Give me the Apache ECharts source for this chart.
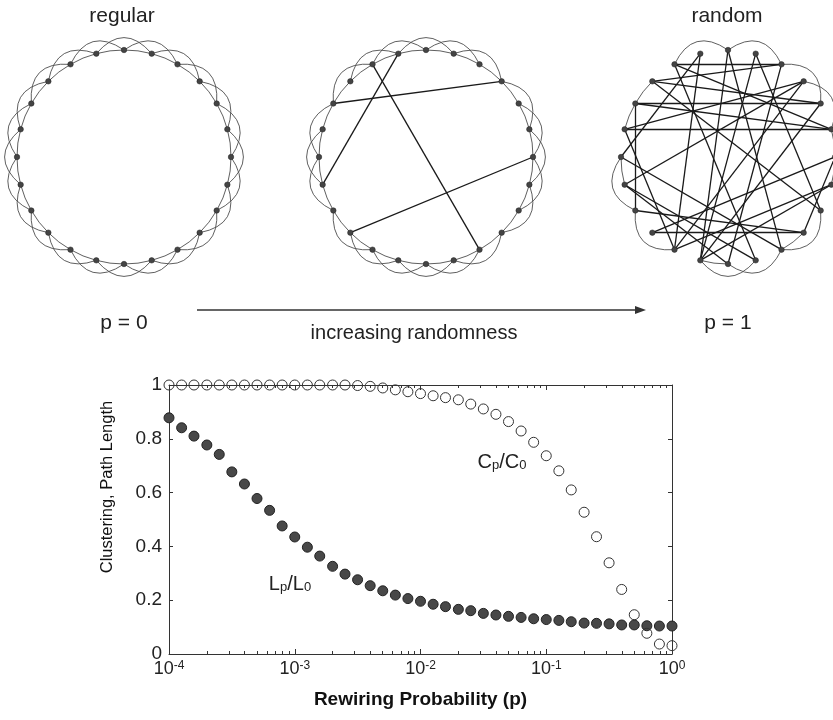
<!DOCTYPE html>
<html>
<head>
<meta charset="utf-8">
<script src="https://cdn.jsdelivr.net/npm/echarts@6/dist/echarts.min.js"></script>
<style>
html, body { margin: 0; padding: 0; background: #fff; }
#main { width: 833px; height: 720px; }
</style>
</head>
<body>
<div id="main"></div>
<script>
// --- ring networks: 24 nodes, each tied to 2 neighbours on either side ---
var nodeCount = 24;
// shortcuts of the small-world ring and the lattice arcs they replaced
var middleShortcuts = [[20, 3], [23, 17], [22, 10], [6, 15]];
var middleRemovedArcs = [[19, 21], [8, 10], [15, 17], [2, 4]];
// random ring: what is left of the lattice, plus the rewired chords
var randomArcs = [[22, 0], [0, 2], [2, 4], [3, 5], [16, 18], [14, 16], [11, 13], [10, 12], [8, 10]];
var randomNeighbours = [[19, 20], [20, 21], [12, 13], [5, 6], [6, 7], [17, 18], [9, 10]];
var randomChords = [
  [22, 2], [22, 5], [21, 2], [21, 4], [20, 4], [20, 5], [20, 16], [23, 18], [23, 14],
  [0, 13], [0, 10], [1, 13], [1, 8], [3, 19], [3, 17], [4, 13], [5, 19], [6, 15],
  [6, 9], [7, 14], [7, 13], [15, 9], [16, 9], [17, 12], [17, 11], [18, 10], [19, 14],
  [12, 2], [11, 22], [8, 21], [14, 3]
];

// --- clustering / path length vs rewiring probability ---
var rewiringP = [
  0.0001, 0.000126, 0.000158, 0.0002, 0.000251, 0.000316, 0.000398, 0.000501, 0.000631, 0.000794,
  0.001, 0.00126, 0.00158, 0.002, 0.00251, 0.00316, 0.00398, 0.00501, 0.00631, 0.00794,
  0.01, 0.0126, 0.0158, 0.02, 0.0251, 0.0316, 0.0398, 0.0501, 0.0631, 0.0794,
  0.1, 0.126, 0.158, 0.2, 0.251, 0.316, 0.398, 0.501, 0.631, 0.794, 1
];
var clustering = [
  1, 1, 1, 1, 1, 1, 1, 1, 1, 1,
  1, 1, 1, 1, 1, 0.998, 0.995, 0.989, 0.982, 0.975,
  0.968, 0.96, 0.953, 0.945, 0.929, 0.911, 0.891, 0.864, 0.829, 0.787,
  0.737, 0.681, 0.61, 0.527, 0.436, 0.339, 0.24, 0.146, 0.077, 0.037, 0.031
];
var pathLength = [
  0.878, 0.841, 0.81, 0.777, 0.742, 0.677, 0.632, 0.578, 0.534, 0.476,
  0.435, 0.397, 0.364, 0.326, 0.297, 0.276, 0.254, 0.235, 0.219, 0.206,
  0.196, 0.185, 0.176, 0.166, 0.161, 0.151, 0.145, 0.14, 0.136, 0.131,
  0.128, 0.125, 0.12, 0.115, 0.114, 0.112, 0.108, 0.108, 0.105, 0.104, 0.104
];

var FONT = '"Liberation Sans", Arial, sans-serif';
var myChart = echarts.init(document.getElementById('main'));

function ringNodes() {
  var nodes = [];
  for (var i = 0; i < nodeCount; i++) {
    nodes.push({ name: 'n' + i, value: [1, i] });
  }
  return nodes;
}

var arcStyle = { color: '#4d4d4d', width: 0.9, curveness: 0.58 };
var nearStyle = { color: '#4d4d4d', width: 0.9, curveness: 0.07 };
var chordStyle = { color: '#1a1a1a', width: 1.3, curveness: 0 };

function isRemoved(a, b, removed) {
  return removed.some(function (r) { return r[0] === a && r[1] === b; });
}

function latticeLinks(removed) {
  var links = [];
  for (var i = 0; i < nodeCount; i++) {
    links.push({ source: i, target: (i + 1) % nodeCount, lineStyle: nearStyle });
    if (!isRemoved(i, (i + 2) % nodeCount, removed)) {
      links.push({ source: i, target: (i + 2) % nodeCount, lineStyle: arcStyle });
    }
  }
  return links;
}

function pairsToLinks(pairs, style) {
  return pairs.map(function (p) { return { source: p[0], target: p[1], lineStyle: style }; });
}

var regularLinks = latticeLinks([]);
var middleLinks = latticeLinks(middleRemovedArcs).concat(pairsToLinks(middleShortcuts, chordStyle));
var randomLinks = pairsToLinks(randomArcs, arcStyle)
  .concat(pairsToLinks(randomNeighbours, nearStyle))
  .concat(pairsToLinks(randomChords, chordStyle));

function ringSeries(idx, links) {
  return {
    type: 'graph',
    coordinateSystem: 'polar',
    polarIndex: idx,
    layout: 'none',
    silent: true,
    symbol: 'circle',
    symbolSize: 5.5,
    itemStyle: { color: '#444', borderColor: '#222', borderWidth: 0.5 },
    lineStyle: { color: '#555', width: 0.9, opacity: 1 },
    label: { show: false },
    data: ringNodes(),
    links: links
  };
}

var centers = [[124, 157], [426, 157], [728, 157]];

function scatterPairs(ys) {
  return rewiringP.map(function (p, i) { return [p, ys[i]]; });
}

var xLabelRich = {
  b: { fontSize: 18, fontFamily: FONT, color: '#222' },
  s: { fontSize: 12, fontFamily: FONT, color: '#222', verticalAlign: 'top' }
};

var subRich = {
  m: { fontSize: 20, lineHeight: 20, fontFamily: FONT, fill: '#222' },
  s: { fontSize: 13, lineHeight: 8, fontFamily: FONT, fill: '#222', verticalAlign: 'bottom' }
};

option = {
  animation: false,
  backgroundColor: '#fff',
  polar: centers.map(function (c) { return { center: c, radius: 107 }; }),
  angleAxis: centers.map(function (c, i) {
    return {
      polarIndex: i, type: 'value', min: 0, max: nodeCount, startAngle: 90, clockwise: true,
      show: false, axisLine: { show: false }, splitLine: { show: false }, axisTick: { show: false }, axisLabel: { show: false }
    };
  }),
  radiusAxis: centers.map(function (c, i) {
    return {
      polarIndex: i, type: 'value', min: 0, max: 1,
      show: false, axisLine: { show: false }, splitLine: { show: false }, axisTick: { show: false }, axisLabel: { show: false }
    };
  }),
  grid: { left: 169, top: 385, width: 503, height: 269 },
  xAxis: [
    {
      type: 'log', logBase: 10, min: 0.0001, max: 1, position: 'bottom',
      name: 'Rewiring Probability (p)', nameLocation: 'middle', nameGap: 36,
      nameTextStyle: { fontSize: 19, fontWeight: 'bold', fontFamily: FONT, color: '#111' },
      axisLine: { onZero: false, lineStyle: { color: '#333', width: 1 } },
      axisTick: { inside: true, length: 5, lineStyle: { color: '#333' } },
      minorTick: { show: true, splitNumber: 9, length: 3, lineStyle: { color: '#333' } },
      splitLine: { show: false },
      axisLabel: {
        margin: 6, color: '#222',
        formatter: function (v) { return '{b|10}{s|' + Math.round(Math.log10(v)) + '}'; },
        rich: xLabelRich
      }
    },
    {
      type: 'log', logBase: 10, min: 0.0001, max: 1, position: 'top',
      axisLine: { onZero: false, lineStyle: { color: '#333', width: 1 } },
      axisTick: { inside: true, length: 5, lineStyle: { color: '#333' } },
      minorTick: { show: true, splitNumber: 9, length: 3, lineStyle: { color: '#333' } },
      splitLine: { show: false },
      axisLabel: { show: false }
    }
  ],
  yAxis: [
    {
      type: 'value', min: 0, max: 1, interval: 0.2, position: 'left',
      axisLine: { show: true, onZero: false, lineStyle: { color: '#333', width: 1 } },
      axisTick: { show: true, inside: true, length: 4, lineStyle: { color: '#333' } },
      splitLine: { show: false },
      axisLabel: { fontSize: 19, fontFamily: FONT, color: '#222', margin: 7 }
    },
    {
      type: 'value', min: 0, max: 1, interval: 0.2, position: 'right',
      axisLine: { show: true, onZero: false, lineStyle: { color: '#333', width: 1 } },
      axisTick: { show: true, inside: true, length: 4, lineStyle: { color: '#333' } },
      splitLine: { show: false },
      axisLabel: { show: false }
    }
  ],
  series: [
    ringSeries(0, regularLinks),
    ringSeries(1, middleLinks),
    ringSeries(2, randomLinks),
    {
      name: 'L(p)/L(0)', type: 'scatter', xAxisIndex: 0, yAxisIndex: 0,
      symbol: 'circle', symbolSize: 10,
      itemStyle: { color: '#484848', borderColor: '#222', borderWidth: 1, opacity: 1 },
      data: scatterPairs(pathLength)
    },
    {
      name: 'C(p)/C(0)', type: 'scatter', xAxisIndex: 0, yAxisIndex: 0,
      symbol: 'circle', symbolSize: 10,
      itemStyle: { color: 'rgba(255,255,255,0)', borderColor: '#333', borderWidth: 1, opacity: 1 },
      data: scatterPairs(clustering)
    }
  ],
  graphic: [
    { type: 'line', shape: { x1: 197, y1: 310, x2: 638, y2: 310 }, style: { stroke: '#333', lineWidth: 1.5 } },
    { type: 'polygon', shape: { points: [[646, 310], [635, 306], [635, 314]] }, style: { fill: '#333' } },
    { type: 'text', x: 122, y: 16, style: { text: 'regular', font: '21px ' + FONT, fill: '#222', align: 'center', verticalAlign: 'middle' } },
    { type: 'text', x: 727, y: 16, style: { text: 'random', font: '21px ' + FONT, fill: '#222', align: 'center', verticalAlign: 'middle' } },
    { type: 'text', x: 124, y: 323, style: { text: 'p = 0', font: '21px ' + FONT, fill: '#222', align: 'center', verticalAlign: 'middle' } },
    { type: 'text', x: 728, y: 323, style: { text: 'p = 1', font: '21px ' + FONT, fill: '#222', align: 'center', verticalAlign: 'middle' } },
    { type: 'text', x: 414, y: 333, style: { text: 'increasing randomness', font: '20px ' + FONT, fill: '#222', align: 'center', verticalAlign: 'middle' } },
    { type: 'text', x: 107, y: 487, rotation: Math.PI / 2, style: { text: 'Clustering, Path Length', font: '16.5px ' + FONT, fill: '#111', align: 'center', verticalAlign: 'middle' } },
    { type: 'text', x: 502, y: 462, style: { text: '{m|C}{s|p}{m|/C}{s|0}', align: 'center', verticalAlign: 'middle', rich: subRich } },
    { type: 'text', x: 290, y: 584, style: { text: '{m|L}{s|p}{m|/L}{s|0}', align: 'center', verticalAlign: 'middle', rich: subRich } }
  ]
};

myChart.setOption(option);
</script>
</body>
</html>
